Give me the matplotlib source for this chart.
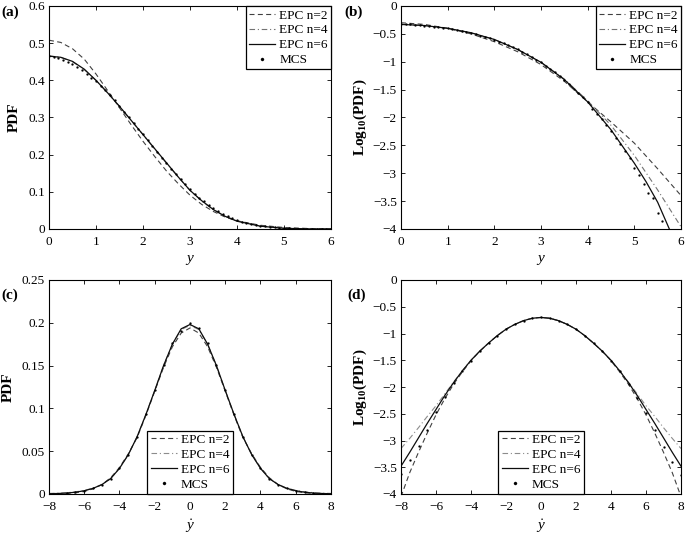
import numpy as np
import matplotlib
matplotlib.use("Agg")
import matplotlib.pyplot as plt

plt.rcParams['font.family'] = ['Liberation Serif', 'DejaVu Serif']
plt.rcParams['mathtext.fontset'] = 'custom'
plt.rcParams['mathtext.rm'] = 'Liberation Serif'
plt.rcParams['mathtext.it'] = 'Liberation Serif:italic'
plt.rcParams['mathtext.bf'] = 'Liberation Serif:bold'

# ---------------- data: panel (a) PDF of y ----------------
xa = [0, 0.25, 0.5, 0.75, 1, 1.25, 1.5, 1.75, 2, 2.25, 2.5, 2.75, 3, 3.25, 3.5, 3.75, 4, 4.5, 5, 5.5, 6]
a_n2 = [0.508, 0.502, 0.485, 0.457, 0.417, 0.372, 0.326, 0.280, 0.236, 0.195, 0.156, 0.122, 0.091, 0.066, 0.047, 0.032, 0.022, 0.010, 0.0040, 0.0014, 0.0004]
a_n4 = [0.466, 0.462, 0.450, 0.429, 0.400, 0.366, 0.330, 0.292, 0.254, 0.215, 0.177, 0.140, 0.104, 0.075, 0.052, 0.034, 0.022, 0.008, 0.0022, 0.0005, 0.0001]
a_n6 = [0.465, 0.462, 0.451, 0.430, 0.400, 0.366, 0.330, 0.292, 0.254, 0.216, 0.178, 0.140, 0.104, 0.076, 0.052, 0.034, 0.021, 0.0075, 0.0018, 0.0004, 0.0001]
xa_mcs = [0.0, 0.1, 0.2, 0.3, 0.4, 0.5, 0.6, 0.7, 0.8, 0.9, 1.0, 1.1, 1.2, 1.3, 1.4, 1.5, 1.6, 1.7, 1.8, 1.9,
          2.0, 2.1, 2.2, 2.3, 2.4, 2.5, 2.6, 2.7, 2.8, 2.9, 3.0, 3.1, 3.2, 3.3, 3.4, 3.5, 3.6, 3.7, 3.8, 3.9,
          4.0, 4.1, 4.2, 4.3, 4.4, 4.5, 4.6, 4.7, 4.8, 4.9, 5.0, 5.1, 5.2, 5.3, 5.4, 5.5, 5.6, 5.7, 5.8, 5.9, 6.0]
a_mcs = [0.466, 0.464, 0.459, 0.455, 0.449, 0.443, 0.436, 0.427, 0.418, 0.407, 0.397, 0.386, 0.373, 0.360, 0.346, 0.332, 0.316, 0.301, 0.286, 0.270,
         0.255, 0.239, 0.223, 0.207, 0.192, 0.177, 0.162, 0.148, 0.134, 0.120, 0.107, 0.095, 0.084, 0.074, 0.065, 0.056, 0.048, 0.041, 0.035, 0.029,
         0.024, 0.020, 0.016, 0.013, 0.011, 0.0085, 0.0068, 0.0053, 0.0041, 0.0032, 0.0024, 0.0018, 0.0013, 0.0009, 0.0006, 0.0004, 0.0002, 0.0001, 0.0, 0.0, 0.0]

# ---------------- data: panel (b) log10 PDF of y ----------------
xb = [0, 0.5, 1, 1.5, 2, 2.5, 3, 3.5, 4, 4.5, 5, 5.5, 6]
b_n2 = [-0.30, -0.33, -0.40, -0.50, -0.64, -0.82, -1.05, -1.35, -1.72, -2.08, -2.46, -2.92, -3.40]
b_n4 = [-0.33, -0.35, -0.40, -0.48, -0.60, -0.78, -1.01, -1.31, -1.70, -2.14, -2.68, -3.30, -3.96]
xb6 = [0, 0.5, 1, 1.5, 2, 2.5, 3, 3.5, 4, 4.5, 5, 5.25, 5.5, 5.75]
b_n6 = [-0.33, -0.35, -0.40, -0.48, -0.60, -0.78, -1.01, -1.32, -1.72, -2.22, -2.82, -3.15, -3.52, -4.0]
xb_mcs = [0.0, 0.1, 0.2, 0.3, 0.4, 0.5, 0.6, 0.7, 0.8, 0.9, 1.0, 1.1, 1.2, 1.3, 1.4, 1.5, 1.6, 1.7, 1.8, 1.9,
          2.0, 2.1, 2.2, 2.3, 2.4, 2.5, 2.6, 2.7, 2.8, 2.9, 3.0, 3.1, 3.2, 3.3, 3.4, 3.5, 3.6, 3.7, 3.8, 3.9,
          4.0, 4.1, 4.2, 4.3, 4.4, 4.5, 4.6, 4.7, 4.8, 4.9, 5.0, 5.1, 5.2, 5.3, 5.4, 5.5, 5.6]
b_mcs = [-0.33, -0.32, -0.33, -0.34, -0.34, -0.35, -0.35, -0.37, -0.38, -0.39, -0.40, -0.42, -0.43, -0.45, -0.47, -0.49, -0.51, -0.53, -0.56, -0.58,
         -0.61, -0.64, -0.67, -0.70, -0.74, -0.78, -0.82, -0.86, -0.91, -0.96, -1.01, -1.07, -1.13, -1.19, -1.26, -1.33, -1.40, -1.48, -1.56, -1.64,
         -1.73, -1.84, -1.93, -2.03, -2.13, -2.24, -2.36, -2.47, -2.60, -2.73, -2.90, -3.03, -3.20, -3.36, -3.45, -3.72, -3.86]

# ---------------- data: panel (c) PDF of y-dot ----------------
xc = [-8, -7.5, -7, -6.5, -6, -5.5, -5, -4.5, -4, -3.5, -3, -2.5, -2, -1.5, -1, -0.5, 0,
      0.5, 1, 1.5, 2, 2.5, 3, 3.5, 4, 4.5, 5, 5.5, 6, 6.5, 7, 7.5, 8]
c_n2 = [0.0001, 0.0003, 0.0006, 0.0014, 0.0030, 0.0060, 0.011, 0.019, 0.031, 0.047, 0.066, 0.092, 0.120, 0.148, 0.172, 0.188, 0.194,
        0.188, 0.172, 0.148, 0.120, 0.092, 0.066, 0.047, 0.031, 0.019, 0.011, 0.0060, 0.0030, 0.0014, 0.0006, 0.0003, 0.0001]
c_n4 = [0.0007, 0.0010, 0.0016, 0.0025, 0.0042, 0.0068, 0.011, 0.018, 0.030, 0.046, 0.067, 0.093, 0.121, 0.150, 0.175, 0.192, 0.197,
        0.192, 0.175, 0.150, 0.121, 0.093, 0.067, 0.046, 0.030, 0.018, 0.011, 0.0068, 0.0042, 0.0025, 0.0016, 0.0010, 0.0007]
c_n6 = [0.0003, 0.0006, 0.0011, 0.0021, 0.0038, 0.0066, 0.011, 0.018, 0.030, 0.046, 0.067, 0.093, 0.121, 0.150, 0.175, 0.193, 0.198,
        0.193, 0.175, 0.150, 0.121, 0.093, 0.067, 0.046, 0.030, 0.018, 0.011, 0.0066, 0.0038, 0.0021, 0.0011, 0.0006, 0.0003]
c_mcs = [0.0003, 0.0005, 0.0010, 0.0020, 0.0037, 0.0065, 0.011, 0.018, 0.030, 0.046, 0.067, 0.094, 0.122, 0.151, 0.176, 0.191, 0.200,
         0.194, 0.176, 0.151, 0.122, 0.094, 0.067, 0.046, 0.030, 0.018, 0.011, 0.0065, 0.0037, 0.0020, 0.0010, 0.0005, 0.0003]

# ---------------- data: panel (d) log10 PDF of y-dot ----------------
xd = xc
d_n2 = [-4.05, -3.60, -3.22, -2.86, -2.52, -2.22, -1.95, -1.72, -1.51, -1.33, -1.18, -1.04, -0.92, -0.83, -0.76, -0.715, -0.70,
        -0.715, -0.76, -0.83, -0.92, -1.04, -1.18, -1.33, -1.51, -1.72, -1.95, -2.22, -2.52, -2.86, -3.22, -3.60, -4.05]
d_n4 = [-3.15, -2.96, -2.76, -2.55, -2.35, -2.13, -1.91, -1.70, -1.50, -1.33, -1.18, -1.04, -0.92, -0.83, -0.76, -0.715, -0.70,
        -0.715, -0.76, -0.83, -0.92, -1.04, -1.18, -1.33, -1.50, -1.70, -1.91, -2.13, -2.35, -2.55, -2.76, -2.96, -3.15]
d_n6 = [-3.48, -3.22, -2.95, -2.68, -2.42, -2.16, -1.92, -1.70, -1.50, -1.33, -1.18, -1.04, -0.92, -0.83, -0.76, -0.715, -0.70,
        -0.715, -0.76, -0.83, -0.92, -1.04, -1.18, -1.33, -1.50, -1.70, -1.92, -2.16, -2.42, -2.68, -2.95, -3.22, -3.48]
d_mcs = [-3.62, -3.36, -3.10, -2.80, -2.47, -2.19, -1.93, -1.71, -1.51, -1.33, -1.18, -1.04, -0.92, -0.83, -0.76, -0.715, -0.70,
         -0.715, -0.76, -0.83, -0.92, -1.04, -1.18, -1.33, -1.51, -1.71, -1.94, -2.20, -2.48, -2.80, -3.12, -3.40, -3.64]

labels = ['EPC n=2', 'EPC n=4', 'EPC n=6', 'MCS']

fig = plt.figure(figsize=(6.85, 5.37), dpi=100)
W, H = 685.0, 537.0

def make_ax(l, t, r, b):
    return fig.add_axes([l / W, 1 - b / H, (r - l) / W, (b - t) / H])

axa = make_ax(49, 6, 331, 229)
axb = make_ax(401, 6, 681, 229)
axc = make_ax(49, 280, 331, 494)
axd = make_ax(401, 280, 681, 494)

fs = 9.5
lfs = 11
dash = (0, (4.5, 3))
dashdot = (0, (5, 2.5, 1, 2.5))

def draw(ax, x2, y2, x4, y4, x6, y6, xm, ym, gray4='0.45'):
    h1, = ax.plot(x2, y2, color='0.25', lw=0.8, ls=dash)
    h2, = ax.plot(x4, y4, color=gray4, lw=0.8, ls=dashdot)
    h3, = ax.plot(x6, y6, color='0.05', lw=0.9, ls='-')
    h4, = ax.plot(xm, ym, ls='none', marker='o', ms=1.4, mfc='black', mec='black', mew=0.2)
    return [h1, h2, h3, h4]

def style(ax, xpad=5):
    ax.tick_params(direction='in', top=True, right=True, labelsize=fs, length=3, width=0.6)
    ax.tick_params(axis='x', pad=xpad)
    ax.tick_params(axis='y', pad=3)
    for s in ax.spines.values():
        s.set_linewidth(0.8)

def legend(ax, hs, loc):
    leg = ax.legend(hs, labels, loc=loc, fontsize=fs, frameon=True, fancybox=False,
                    edgecolor='black', framealpha=1, borderaxespad=0, handlelength=2.0,
                    handletextpad=0.3, borderpad=0.25, labelspacing=0.2, markerscale=1.6)
    leg.get_frame().set_linewidth(0.9)

# (a)
hs = draw(axa, xa, a_n2, xa, a_n4, xa, a_n6, xa_mcs, a_mcs)
axa.set_xlim(0, 6); axa.set_ylim(0, 0.6)
axa.set_xticks(range(0, 7)); axa.set_yticks([0, 0.1, 0.2, 0.3, 0.4, 0.5, 0.6])
axa.set_yticklabels(['0', '0.1', '0.2', '0.3', '0.4', '0.5', '0.6'])
axa.set_ylabel('PDF', fontsize=lfs, fontweight='bold', labelpad=5)
axa.set_xlabel('$y$', fontsize=lfs, labelpad=4)
style(axa); legend(axa, hs, 'upper right')

# (b)
hs = draw(axb, xb, b_n2, xb, b_n4, xb6, b_n6, xb_mcs, b_mcs)
axb.set_xlim(0, 6); axb.set_ylim(-4, 0)
axb.set_xticks(range(0, 7)); axb.set_yticks([-4, -3.5, -3, -2.5, -2, -1.5, -1, -0.5, 0])
axb.set_yticklabels(['\u22124', '\u22123.5', '\u22123', '\u22122.5', '\u22122', '\u22121.5', '\u22121', '\u22120.5', '0'])
axb.set_ylabel(r'$\mathbf{Log_{10}(PDF)}$', fontsize=lfs, labelpad=3)
axb.set_xlabel('$y$', fontsize=lfs, labelpad=4)
style(axb); legend(axb, hs, 'upper right')

# (c)
hs = draw(axc, xc, c_n2, xc, c_n4, xc, c_n6, xc, c_mcs, gray4='0.55')
axc.set_xlim(-8, 8); axc.set_ylim(0, 0.25)
axc.set_xticks(range(-8, 9, 2)); axc.set_yticks([0, 0.05, 0.1, 0.15, 0.2, 0.25])
axc.set_yticklabels(['0', '0.05', '0.1', '0.15', '0.2', '0.25'])
axc.set_xticklabels(['\u22128', '\u22126', '\u22124', '\u22122', '0', '2', '4', '6', '8'])
axc.set_ylabel('PDF', fontsize=lfs, fontweight='bold', labelpad=5)
axc.set_xlabel(r'$\dot{y}$', fontsize=lfs, labelpad=3)
style(axc); legend(axc, hs, 'lower center')

# (d)
hs = draw(axd, xd, d_n2, xd, d_n4, xd, d_n6, xd, d_mcs, gray4='0.55')
axd.set_xlim(-8, 8); axd.set_ylim(-4, 0)
axd.set_xticks(range(-8, 9, 2)); axd.set_yticks([-4, -3.5, -3, -2.5, -2, -1.5, -1, -0.5, 0])
axd.set_yticklabels(['\u22124', '\u22123.5', '\u22123', '\u22122.5', '\u22122', '\u22121.5', '\u22121', '\u22120.5', '0'])
axd.set_xticklabels(['\u22128', '\u22126', '\u22124', '\u22122', '0', '2', '4', '6', '8'])
axd.set_ylabel(r'$\mathbf{Log_{10}(PDF)}$', fontsize=lfs, labelpad=3)
axd.set_xlabel(r'$\dot{y}$', fontsize=lfs, labelpad=3)
style(axd); legend(axd, hs, 'lower center')

# panel letters
for txt, px, py in [('(a)', 1, 12), ('(b)', 344, 12), ('(c)', 1, 295), ('(d)', 347, 295)]:
    fig.text(px / W, 1 - py / H, txt, fontsize=lfs, fontweight='bold', va='center', ha='left')

fig.savefig('out.png', dpi=100)
